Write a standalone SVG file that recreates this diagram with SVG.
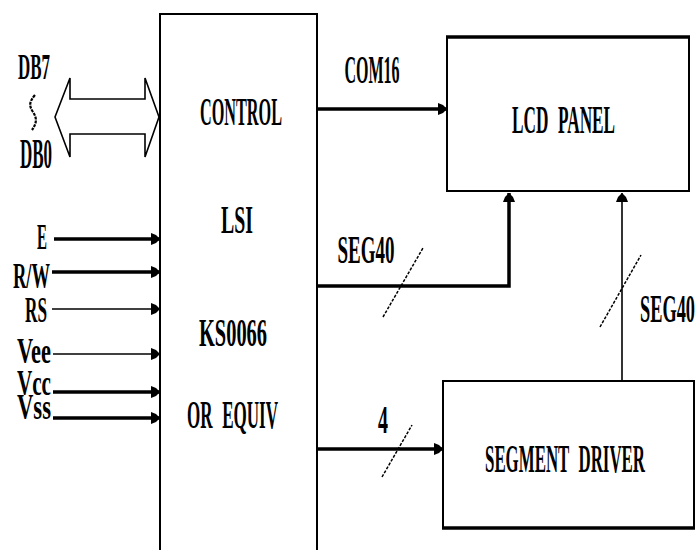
<svg xmlns="http://www.w3.org/2000/svg" width="696" height="550" viewBox="0 0 696 550">
<defs>
<style>
.t{font-family:"Liberation Serif","Times New Roman",serif;font-weight:bold;font-size:16px;fill:#000}
.m{text-anchor:middle}
.e{text-anchor:end}
.w{word-spacing:5px}
.v{font-size:14px}
.box{fill:#fff;stroke:#000;stroke-width:2}
.thick{fill:none;stroke:#000;stroke-width:3.5}
.thin{fill:none;stroke:#000;stroke-width:1.6}
.slash{fill:none;stroke:#000;stroke-width:1.5;stroke-dasharray:3 1.5}
</style>
<marker id="ah" markerUnits="userSpaceOnUse" markerWidth="10" markerHeight="12" refX="9" refY="6" orient="auto" viewBox="0 0 10 12">
<path d="M0,0 L5,2 L9,6 L5,10 L0,12 z" fill="#000"/>
</marker>
</defs>
<rect width="696" height="550" fill="#fff"/>

<g id="control">
<path class="box" d="M160,560 V14 H317 V560"/>
<text class="t m" transform="translate(241,125) scale(1,2.45)" textLength="82" lengthAdjust="spacingAndGlyphs">CONTROL</text>
<text class="t m" transform="translate(237,233) scale(1,2.45)" textLength="32" lengthAdjust="spacingAndGlyphs">LSI</text>
<text class="t m" transform="translate(233,346) scale(1,2.45)" textLength="68" lengthAdjust="spacingAndGlyphs">KS0066</text>
<text class="t m w" transform="translate(232.5,428) scale(1,2.45)" textLength="91" lengthAdjust="spacingAndGlyphs">OR EQUIV</text>
</g>

<g id="lcd-panel">
<rect class="box" x="447" y="37" width="242" height="154"/>
<line x1="446" y1="37" x2="690" y2="37" stroke="#000" stroke-width="3.5"/>
<text class="t m w" transform="translate(563.5,133) scale(1,2.45)" textLength="103" lengthAdjust="spacingAndGlyphs">LCD PANEL</text>
</g>

<g id="segment-driver">
<rect class="box" x="443" y="381" width="251" height="147"/>
<line x1="442" y1="528" x2="695" y2="528" stroke="#000" stroke-width="3.5"/>
<text class="t m w" transform="translate(565,472) scale(1,2.45)" textLength="160" lengthAdjust="spacingAndGlyphs">SEGMENT DRIVER</text>
</g>

<g id="data-bus">
<path fill="#fff" stroke="#000" stroke-width="1.6" d="M55,117 L70,78 L70,99 L145,99 L145,78 L159,117 L145,157 L145,134 L70,134 L70,157 Z"/>
<text class="t v" transform="translate(18,79) scale(1,2.6)" textLength="32" lengthAdjust="spacingAndGlyphs">DB7</text>
<path d="M35,95 C29,102 29,106 33,112 C37,118 37,123 32,130" fill="none" stroke="#000" stroke-width="2.2" stroke-dasharray="3 1"/>
<text class="t" transform="translate(20,168) scale(1,2.6)" textLength="32" lengthAdjust="spacingAndGlyphs">DB0</text>
</g>

<g id="inputs">
<text class="t v" transform="translate(37,249) scale(1,2.6)" textLength="10" lengthAdjust="spacingAndGlyphs">E</text>
<text class="t v" transform="translate(13,288) scale(1,2.6)" textLength="37" lengthAdjust="spacingAndGlyphs">R/W</text>
<text class="t v" transform="translate(25,322) scale(1,2.6)" textLength="22" lengthAdjust="spacingAndGlyphs">RS</text>
<text class="t v" transform="translate(17,363) scale(1,2.6)" textLength="34" lengthAdjust="spacingAndGlyphs">Vee</text>
<text class="t v" transform="translate(17,395) scale(1,2.6)" textLength="34" lengthAdjust="spacingAndGlyphs">Vcc</text>
<text class="t v" transform="translate(17,419) scale(1,2.6)" textLength="34" lengthAdjust="spacingAndGlyphs">Vss</text>
</g>

<g id="connectors">
<line class="thick" x1="54" y1="239" x2="160" y2="239" marker-end="url(#ah)"/>
<line class="thick" x1="52" y1="272" x2="160" y2="272" marker-end="url(#ah)"/>
<line class="thin" x1="52" y1="309" x2="160" y2="309" stroke-width="2" marker-end="url(#ah)"/>
<line class="thin" x1="53" y1="354" x2="160" y2="354" marker-end="url(#ah)"/>
<line class="thick" x1="53" y1="392" x2="160" y2="392" marker-end="url(#ah)"/>
<line class="thick" x1="53" y1="418" x2="160" y2="418" marker-end="url(#ah)"/>

<line class="thick" x1="317" y1="109" x2="447" y2="109" marker-end="url(#ah)"/>
<text class="t m" transform="translate(372,83) scale(1,2.45)" textLength="55" lengthAdjust="spacingAndGlyphs">COM16</text>

<path class="thick" d="M317,286 H509 V193" marker-end="url(#ah)"/>
<line class="slash" x1="383" y1="317" x2="423" y2="248"/>
<text class="t m" transform="translate(366,263) scale(1,2.45)" textLength="57" lengthAdjust="spacingAndGlyphs">SEG40</text>

<line class="thin" x1="622" y1="381" x2="622" y2="193" marker-end="url(#ah)"/>
<line class="slash" x1="600" y1="327" x2="641" y2="255"/>
<text class="t e" transform="translate(695,322) scale(1,2.45)" textLength="55" lengthAdjust="spacingAndGlyphs">SEG40</text>

<line class="thick" x1="317" y1="449" x2="443" y2="449" marker-end="url(#ah)"/>
<line class="slash" x1="382" y1="477" x2="412" y2="425"/>
<text class="t m" transform="translate(383,433) scale(1,2.45)" textLength="10" lengthAdjust="spacingAndGlyphs">4</text>
</g>
</svg>
